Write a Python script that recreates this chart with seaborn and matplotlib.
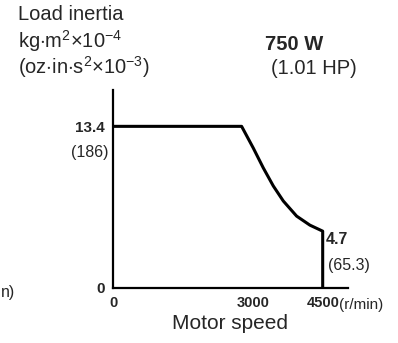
import matplotlib
matplotlib.use('Agg')
import matplotlib.pyplot as plt
import matplotlib.transforms as mtransforms
import seaborn as sns
import pandas as pd

# values
speed = [0, 2760, 3010, 3225, 3440, 3655, 3940, 4225, 4500, 4500]
inertia = [13.4, 13.4, 11.6, 9.95, 8.45, 7.2, 5.95, 5.2, 4.7, 0]
x_ticks = [0, 3000, 4500]
x_tick_labels = ['0', '3000', '4500']
y_ticks = [0, 13.4]
y_tick_labels = ['0', '13.4']

df = pd.DataFrame({'speed': speed, 'inertia': inertia})

sns.set_style('white')
plt.rcParams['font.family'] = ['Liberation Sans', 'DejaVu Sans']
plt.rcParams['mathtext.fontset'] = 'custom'
plt.rcParams['mathtext.rm'] = 'Liberation Sans'
plt.rcParams['mathtext.it'] = 'Liberation Sans'

fig = plt.figure(figsize=(3.98, 3.43), dpi=100)
ax = fig.add_axes([0.284, 0.161, 0.590, 0.576])

sns.lineplot(data=df, x='speed', y='inertia', sort=False, estimator=None,
             color='black', linewidth=2.2, ax=ax)

ax.set_xlim(0, 5040)
ax.set_ylim(0, 16.4)
for s in ['top', 'right']:
    ax.spines[s].set_visible(False)
for s in ['left', 'bottom']:
    ax.spines[s].set_linewidth(1.6)
    ax.spines[s].set_color('black')

ax.set_xticks(x_ticks)
ax.set_xticklabels(x_tick_labels, fontsize=10.5, fontweight='bold')
ax.set_yticks(y_ticks)
ax.set_yticklabels(y_tick_labels, fontsize=11, fontweight='bold')
ax.tick_params(length=0, pad=6)
ax.set_xlabel('Motor speed', fontsize=15, labelpad=3)
ax.set_ylabel('')

# secondary unit labels
yblend = mtransforms.blended_transform_factory(ax.transAxes, ax.transData)
xblend = mtransforms.blended_transform_factory(ax.transData, ax.transAxes)
ax.text(-0.02, 13.4 - 2.15, '(186)', transform=yblend,
        ha='right', va='center', fontsize=11.5)
ax.text(4560, 4.0, '4.7', ha='left', va='center', fontsize=11.5, fontweight='bold')
ax.text(4620, 1.85, '(65.3)', ha='left', va='center', fontsize=11.5)
ax.text(4850, -0.05, '(r/min)', transform=xblend,
        ha='left', va='top', fontsize=11)

# header texts
fig.text(18 / 398, 1 - 14 / 343, 'Load inertia', ha='left', va='center', fontsize=14.5)
fig.text(18 / 398, 1 - 41 / 343, r'kg$\cdot$m$^2$$\times$10$^{-4}$', ha='left', va='center', fontsize=14.5)
fig.text(18 / 398, 1 - 67 / 343, r'(oz$\cdot$in$\cdot$s$^2$$\times$10$^{-3}$)', ha='left', va='center', fontsize=14.5)
fig.text(265 / 398, 1 - 45 / 343, '750 W', ha='left', va='center', fontsize=14.5, fontweight='bold')
fig.text(271 / 398, 1 - 68 / 343, '(1.01 HP)', ha='left', va='center', fontsize=14.5)
fig.text(1 / 398, 1 - 292 / 343, 'n)', ha='left', va='center', fontsize=11.5)

fig.savefig('out.png', dpi=100)
